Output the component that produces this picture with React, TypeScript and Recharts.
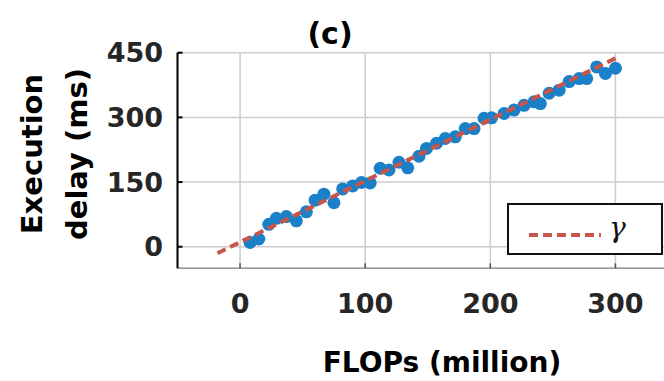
import React from "react";
import {
  ScatterChart,
  Scatter,
  XAxis,
  YAxis,
  CartesianGrid,
  Label,
} from "recharts";

// measured points (FLOPs in million vs execution delay in ms)
const flops = [
  8, 15, 23, 29, 37, 45, 53, 60, 67, 75, 82, 90, 97, 104, 112, 119, 127, 134,
  143, 149, 157, 164, 172, 180, 187, 195, 201, 211, 219, 227, 235, 240, 247,
  255, 263, 271, 277, 285, 292, 300,
];
const delay = [
  10, 18, 52, 66, 70, 60, 81, 108, 122, 102, 134, 141, 149, 148, 182, 178,
  196, 183, 210, 228, 240, 251, 255, 274, 274, 298, 299, 309, 317, 328, 336,
  332, 356, 363, 383, 390, 390, 417, 402, 414,
];

// linear fit gamma
const fitX = [-18, 300];
const fitY = [-15, 437];

const xTicks = [0, 100, 200, 300];
const yTicks = [0, 150, 300, 450];

const DOT_COLOR = "#1A80C8";
const FIT_COLOR = "#C9544A";
const FONT = "DejaVu Sans";

const points = flops.map((x, i) => ({ x, y: delay[i] }));
const fitLine = fitX.map((x, i) => ({ x, y: fitY[i] }));

const tickStyle = {
  fill: "#262626",
  fontSize: 27,
  fontWeight: "bold",
  fontFamily: FONT,
};

const Dot = (props: any) => (
  <circle cx={props.cx} cy={props.cy} r={6.5} fill={DOT_COLOR} />
);

// legend box drawn over the plot, bottom right
const GammaLegend = () => (
  <div
    style={{
      position: "absolute",
      left: 507,
      top: 203,
      width: 152,
      height: 48,
      border: "2px solid #111",
      background: "#fff",
      display: "flex",
      alignItems: "center",
    }}
  >
    <svg width={100} height={48}>
      <line
        x1={20}
        y1={30}
        x2={92}
        y2={30}
        stroke={FIT_COLOR}
        strokeWidth={4}
        strokeDasharray="9 5"
      />
    </svg>
    <span
      style={{
        fontFamily: "DejaVu Serif",
        fontStyle: "italic",
        fontSize: 28,
        color: "#111",
        marginTop: -4,
      }}
    >
      γ
    </span>
  </div>
);

export default function App() {
  return (
    <div
      style={{
        position: "absolute",
        left: 0,
        top: 0,
        width: 664,
        height: 381,
        overflow: "hidden",
        background: "#fff",
      }}
    >
      <ScatterChart
        width={678}
        height={381}
        margin={{ top: 52.7, right: 0, bottom: 0, left: 0 }}
      >
        <CartesianGrid stroke="#cccccc" strokeWidth={1.5} />
        <XAxis
          type="number"
          dataKey="x"
          domain={[-50, 350]}
          ticks={xTicks}
          allowDataOverflow
          height={112.7}
          axisLine={{ stroke: "#9a9a9a", strokeWidth: 1.5 }}
          tickLine={{ stroke: "#555", strokeWidth: 1.5 }}
          tickSize={-5}
          tickMargin={31}
          tick={tickStyle}
        >
          <Label
            content={() => (
              <text
                x={442}
                y={362}
                textAnchor="middle"
                dominantBaseline="central"
                fontSize={28}
                fontWeight="bold"
                fontFamily={FONT}
                fill="#000"
              >
                FLOPs (million)
              </text>
            )}
          />
          <Label
            content={() => (
              <text
                x={330}
                y={33}
                textAnchor="middle"
                dominantBaseline="central"
                fontSize={30}
                fontWeight="bold"
                fontFamily={FONT}
                fill="#000"
              >
                (c)
              </text>
            )}
          />
        </XAxis>
        <YAxis
          type="number"
          dataKey="y"
          domain={[-50, 450]}
          ticks={yTicks}
          allowDataOverflow
          width={177.5}
          axisLine={{ stroke: "#000", strokeWidth: 2 }}
          tickLine={{ stroke: "#000", strokeWidth: 2 }}
          tickSize={-5}
          tickMargin={19.5}
          tick={tickStyle}
        >
          <Label
            content={() => (
              <g fontSize={29} fontWeight="bold" fontFamily={FONT} fill="#000">
                <text
                  x={32}
                  y={154}
                  transform="rotate(-90, 32, 154)"
                  textAnchor="middle"
                  dominantBaseline="central"
                >
                  Execution
                </text>
                <text
                  x={77}
                  y={154}
                  transform="rotate(-90, 77, 154)"
                  textAnchor="middle"
                  dominantBaseline="central"
                >
                  delay (ms)
                </text>
              </g>
            )}
          />
        </YAxis>
        <Scatter
          name="measured"
          data={points}
          shape={Dot}
          isAnimationActive={false}
        />
        <Scatter
          name="γ"
          data={fitLine}
          shape={() => null}
          line={{
            stroke: FIT_COLOR,
            strokeWidth: 4,
            strokeDasharray: "9 5",
          }}
          isAnimationActive={false}
        />
      </ScatterChart>
      <GammaLegend />
    </div>
  );
}
